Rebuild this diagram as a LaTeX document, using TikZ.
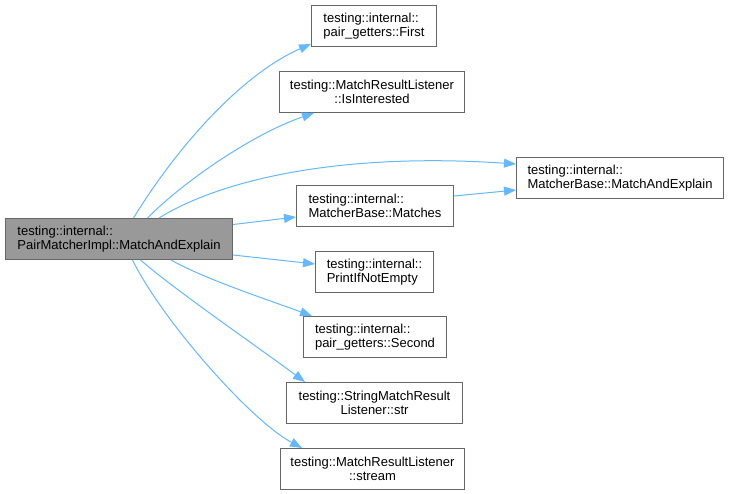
\documentclass[tikz,border=0pt]{standalone}
\usepackage{fontspec}
\setmainfont{Liberation Sans}
\usetikzlibrary{arrows.meta}
\definecolor{edgeblue}{HTML}{63B8FF}
\definecolor{boxline}{HTML}{666666}
\definecolor{mainfill}{HTML}{999999}
\begin{document}
\begin{tikzpicture}[x=1pt, y=-1pt, >={Triangle[length=12pt,width=9pt]},
  fn/.style={draw=boxline, fill=white, line width=1pt, anchor=north west, inner sep=0pt,
    minimum height=41pt, font=\fontsize{13}{14.5}\selectfont},
  call/.style={->, draw=edgeblue, fill=none, line width=1pt, edgeblue}]
\useasboundingbox (0,0) rectangle (730,493);

\node[fn, fill=mainfill, align=left, minimum width=227pt] (main) at (5,218) {testing::internal::\\PairMatcherImpl::MatchAndExplain};
\node[fn, align=left, minimum width=125pt] (first) at (311,5) {testing::internal::\\pair\_getters::First};
\node[fn, align=center, minimum width=185pt] (isint) at (279,71) {testing::MatchResultListener\\::IsInterested};
\node[fn, align=left, minimum width=207pt] (mbmae) at (516,157) {testing::internal::\\MatcherBase::MatchAndExplain};
\node[fn, align=left, minimum width=157pt] (matches) at (296,185) {testing::internal::\\MatcherBase::Matches};
\node[fn, align=left, minimum width=118pt] (printif) at (315,251) {testing::internal::\\PrintIfNotEmpty};
\node[fn, align=left, minimum width=143pt] (second) at (303,316) {testing::internal::\\pair\_getters::Second};
\node[fn, align=center, minimum width=176pt] (str) at (286,382) {testing::StringMatchResult\\Listener::str};
\node[fn, align=center, minimum width=184pt] (stream) at (280,448) {testing::MatchResultListener\\::stream};

\draw[call] ([xshift=128.5pt]main.north west) .. controls (175,150) and (240,75) .. ([yshift=3pt]first.south west);
\draw[call] ([xshift=142.5pt]main.north west) .. controls (185,180) and (255,133) .. ([xshift=35pt]isint.south west);
\draw[call] ([xshift=154pt]main.north west) .. controls (220,180) and (340,152) .. ([yshift=-7pt]mbmae.north west);
\draw[call] ([yshift=-6.5pt]main.north east) -- ([yshift=10pt]matches.south west);
\draw[call] ([yshift=-11pt]matches.north east) -- ([yshift=9pt]mbmae.south west);
\draw[call] ([yshift=5pt]main.south east) -- ([yshift=-13pt]printif.north west);
\draw[call] ([xshift=166pt]main.south west) .. controls (205,279) and (260,297) .. ([xshift=9pt]second.north west);
\draw[call] ([xshift=135.5pt]main.south west) .. controls (175,290) and (255,345) .. ([xshift=19pt]str.north west);
\draw[call] ([xshift=127.5pt]main.south west) .. controls (162,320) and (250,420) .. ([xshift=22pt]stream.north west);
\end{tikzpicture}
\end{document}
